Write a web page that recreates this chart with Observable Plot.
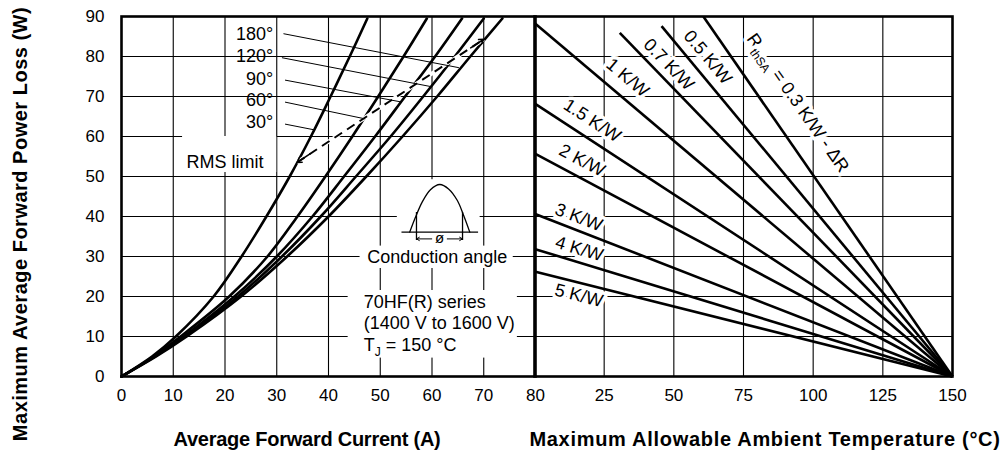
<!DOCTYPE html>
<html><head><meta charset="utf-8">
<script src="https://cdn.jsdelivr.net/npm/d3@7"></script>
<script src="https://cdn.jsdelivr.net/npm/@observablehq/plot@0.6"></script>
<style>
body{margin:0;background:#fff;}
#wrap{position:relative;width:1002px;height:451px;font-family:"Liberation Sans",Arial,sans-serif;color:#000;overflow:hidden;}
#wrap svg{position:absolute;top:0;}
.title{position:absolute;font-weight:bold;font-size:20px;white-space:nowrap;transform:translate(-50%,-50%);}
</style></head><body><div id="wrap"></div>
<script>
// ---------- Left panel: power loss vs average current ----------
const angleLabels = ["30°", "60°", "90°", "120°", "180°"];
const powerLevels = [0, 5, 10, 20, 30, 40, 50, 60, 70, 80, 89.5];
const current30  = [0, 5.9, 10.5, 17.8, 23.2, 28.0, 32.5, 36.6, 40.4, 44.1, 47.5];
const current60  = [0, 6.2, 11.4, 20.8, 28.2, 34.0, 39.4, 44.6, 49.6, 54.5, 59.0];
const current90  = [0, 6.4, 12.0, 21.8, 30.0, 36.9, 43.0, 49.0, 54.8, 60.6, 65.8];
const current120 = [0, 6.5, 12.3, 22.5, 31.0, 38.5, 45.3, 52.0, 58.3, 64.4, 70.0];
const current180 = [0, 6.7, 12.6, 23.1, 32.0, 40.0, 47.3, 54.3, 61.0, 67.4, 73.6];
const currentTicks = [0, 10, 20, 30, 40, 50, 60, 70, 80];
const powerTicks = [0, 10, 20, 30, 40, 50, 60, 70, 80, 90];

// angle labels and leader lines (data units)
const angleLabelX = [29.3, 29.3, 29.3, 29.3, 29.3];
const angleLabelY = [63.5, 69.1, 74.3, 80.1, 85.5];
const leaderX1 = [31.6, 31.6, 31.6, 31.0, 31.3];
const leaderY1 = [63.1, 68.6, 74.1, 79.7, 85.7];
const leaderX2 = [37.1, 47.1, 54.2, 59.7, 65.2];
const leaderY2 = [61.7, 64.4, 68.6, 72.5, 77.2];

// RMS limit (dashed)
const rmsCurrent = [33.9, 70.0];
const rmsPower = [53.5, 84.3];

// text annotations
const rmsText = {text: "RMS limit", x: 20.0, y: 53.5};
const condText = {text: "Conduction angle", x: 61.0, y: 29.8};
const seriesLines = ["70HF(R) series", "(1400 V to 1600 V)", "TJ = 150 °C"];
const seriesX = 46.8;
const seriesY = [18.6, 13.2, 7.8];

// white label boxes [x1, x2, y1, y2]
const boxX1 = [11.8, 53.3, 46.1, 43.8];
const boxX2 = [30.0, 69.3, 75.7, 76.5];
const boxY1 = [51.0, 32.5, 27.0, 4.6];
const boxY2 = [60.0, 49.2, 32.6, 21.5];

// conduction-angle pictogram
const iconArcX = [55.7, 56.8, 58.1, 59.7, 61.5, 63.2, 64.9, 66.1, 67.3];
const iconArcY = [36.1, 39.8, 43.6, 46.7, 48.0, 46.9, 44.0, 40.3, 36.1];
const iconBase = {x1: 54.2, x2: 69.0, y: 36.1};
const iconBarsX = [57.0, 65.9];
const iconBarsY = [34.0, 41.0];
const iconDimY = 34.4;

// ---------- Right panel: ambient temperature ----------
const rthLabels = ["0.3 K/W", "0.5 K/W", "0.7 K/W", "1 K/W", "1.5 K/W", "2 K/W", "3 K/W", "4 K/W", "5 K/W"];
const rthStartT = [60.6, 45.6, 30.6, 0, 0, 0, 0, 0, 0];
const rthStartP = [90, 87.6, 85.9, 88.4, 68.3, 55.8, 40.7, 31.9, 26.25];
const ambientEnd = 150;
const powerEnd = 0;
const tempTicks = [25, 50, 75, 100, 125, 150];

const rLabelText = ["RthSA = 0.3 K/W - ΔR", "0.5 K/W", "0.7 K/W", "1 K/W", "1.5 K/W", "2 K/W", "3 K/W", "4 K/W", "5 K/W"];
const rLabelT = [94.5, 62.2, 48.2, 33.4, 20.7, 17.1, 15.9, 16.1, 15.9];
const rLabelP = [68.4, 79.8, 78.0, 74.7, 64.0, 54.0, 39.8, 31.9, 20.25];
const rLabelAngle = [55, 50, 46, 40, 33, 28, 21, 17, 14];

// ---------- build rows ----------
const currents = [current30, current60, current90, current120, current180];
const curveRows = angleLabels.flatMap((a, k) => powerLevels.map((p, i) => ({angle: a, I: currents[k][i], P: p})));
const angleRows = angleLabels.map((a, k) => ({a, x: angleLabelX[k], y: angleLabelY[k], x1: leaderX1[k], y1: leaderY1[k], x2: leaderX2[k], y2: leaderY2[k]}));
const rmsRow = [{x1: rmsCurrent[0], y1: rmsPower[0], x2: rmsCurrent[1], y2: rmsPower[1]}];
const lerp = (a, b, t) => a + (b - a) * t;
const rmsHeads = [
  {x1: lerp(rmsCurrent[0], rmsCurrent[1], 0.07), y1: lerp(rmsPower[0], rmsPower[1], 0.07), x2: rmsCurrent[0], y2: rmsPower[0]},
  {x1: lerp(rmsCurrent[0], rmsCurrent[1], 0.93), y1: lerp(rmsPower[0], rmsPower[1], 0.93), x2: rmsCurrent[1], y2: rmsPower[1]}
];
const boxRows = boxX1.map((x, i) => ({x1: x, x2: boxX2[i], y1: boxY1[i], y2: boxY2[i]}));
const arcRows = iconArcX.map((x, i) => ({x, y: iconArcY[i]}));
const seriesRows = seriesLines.map((t, i) => ({t, x: seriesX, y: seriesY[i]}));
const iconMid = (iconBarsX[0] + iconBarsX[1]) / 2;
const dimRows = [
  {x1: iconMid - 1.5, x2: iconBarsX[0]},
  {x1: iconMid + 1.5, x2: iconBarsX[1]}
];

const rthRows = rthLabels.map((l, i) => ({l, t0: rthStartT[i], p0: rthStartP[i], t1: ambientEnd, p1: powerEnd}));
const rLabelRows = rLabelText.map((t, i) => ({t, x: rLabelT[i], y: rLabelP[i], r: rLabelAngle[i]}));

const FONT = '"Liberation Sans", Arial, sans-serif';
const svgStyle = {fontSize: "17px", fontFamily: FONT, background: "none", overflow: "visible", color: "black"};
const halo = {stroke: "white", strokeWidth: 7, fill: "black"};

const left = Plot.plot({
  width: 540, height: 451,
  marginLeft: 121, marginRight: 5, marginTop: 16, marginBottom: 75,
  style: svgStyle,
  x: {domain: [0, 80], label: null},
  y: {domain: [0, 90], label: null},
  marks: [
    Plot.gridX(currentTicks.slice(1, -1), {stroke: "black", strokeOpacity: 1, strokeWidth: 1.1}),
    Plot.gridY(powerTicks.slice(1, -1), {stroke: "black", strokeOpacity: 1, strokeWidth: 1.1}),
    Plot.rect(boxRows, {x1: "x1", x2: "x2", y1: "y1", y2: "y2", fill: "white"}),
    Plot.line(curveRows, {x: "I", y: "P", z: "angle", stroke: "black", strokeWidth: 2.6, curve: "catmull-rom"}),
    Plot.link(rmsRow, {x1: "x1", y1: "y1", x2: "x2", y2: "y2", stroke: "white", strokeWidth: 4}),
    Plot.link(rmsRow, {x1: "x1", y1: "y1", x2: "x2", y2: "y2", stroke: "black", strokeWidth: 2, strokeDasharray: "9,6"}),
    Plot.arrow(rmsHeads, {x1: "x1", y1: "y1", x2: "x2", y2: "y2", stroke: "black", strokeWidth: 1.5, headLength: 7, bend: 0}),
    Plot.link(angleRows, {x1: "x1", y1: "y1", x2: "x2", y2: "y2", stroke: "black", strokeWidth: 1}),
    Plot.text(angleRows, {x: "x", y: "y", text: "a", textAnchor: "end", fontSize: 18, fill: "black"}),
    Plot.text([rmsText], {x: "x", y: "y", text: "text", fontSize: 18, fill: "black"}),
    Plot.text([condText], {x: "x", y: "y", text: "text", fontSize: 18, fill: "black"}),
    Plot.text(seriesRows, {x: "x", y: "y", text: "t", textAnchor: "start", fontSize: 18, fill: "black"}),
    // pictogram
    Plot.ruleY([iconBase], {x1: "x1", x2: "x2", y: "y", stroke: "black", strokeWidth: 1.2}),
    Plot.line(arcRows, {x: "x", y: "y", stroke: "black", strokeWidth: 1.3, curve: "catmull-rom"}),
    Plot.ruleX(iconBarsX, {y1: iconBarsY[0], y2: iconBarsY[1], stroke: "black", strokeWidth: 1.3}),
    Plot.arrow(dimRows, {x1: "x1", x2: "x2", y1: iconDimY, y2: iconDimY, stroke: "black", strokeWidth: 1, headLength: 5, bend: 0}),
    Plot.text(["ø"], {x: iconMid, y: iconDimY + 0.2, text: d => d, fontSize: 15, fill: "black"}),
    Plot.frame({stroke: "black", strokeWidth: 2.6}),
    Plot.axisX({ticks: currentTicks, tickSize: 0, tickPadding: 12, label: null}),
    Plot.axisY({ticks: powerTicks, tickSize: 0, tickPadding: 17, label: null})
  ]
});

const right = Plot.plot({
  width: 482, height: 451,
  marginLeft: 14, marginRight: 50, marginTop: 16, marginBottom: 75,
  style: svgStyle,
  x: {domain: [0, 150], label: null},
  y: {domain: [0, 90], label: null, axis: null},
  marks: [
    Plot.gridX(tempTicks.slice(0, -1), {stroke: "black", strokeOpacity: 1, strokeWidth: 1.1}),
    Plot.gridY(powerTicks.slice(1, -1), {stroke: "black", strokeOpacity: 1, strokeWidth: 1.1}),
    Plot.text(rLabelRows, {x: "x", y: "y", text: "t", rotate: "r", fontSize: 18, ...halo}),
    Plot.link(rthRows, {x1: "t0", y1: "p0", x2: "t1", y2: "p1", stroke: "black", strokeWidth: 2.6}),
    Plot.frame({stroke: "black", strokeWidth: 2.6}),
    Plot.axisX({ticks: tempTicks, tickSize: 0, tickPadding: 12, label: null})
  ]
});

function addSub(svg, whole, base, sub, rest) {
  const ns = "http://www.w3.org/2000/svg";
  svg.querySelectorAll("text").forEach(t => {
    if (t.textContent === whole) {
      t.textContent = "";
      const a = document.createElementNS(ns, "tspan"); a.textContent = base;
      const b = document.createElementNS(ns, "tspan"); b.textContent = sub;
      b.setAttribute("font-size", "12"); b.setAttribute("dy", "5");
      const c = document.createElementNS(ns, "tspan"); c.textContent = rest; c.setAttribute("dy", "-5");
      t.append(a, b, c);
    }
  });
}
addSub(left, "TJ = 150 °C", "T", "J", " = 150 °C");
addSub(right, "RthSA = 0.3 K/W - ΔR", "R", "thSA", " = 0.3 K/W - ΔR");

const wrap = document.getElementById("wrap");
left.style.left = "0px";
right.style.left = "520px";
wrap.append(left, right);

function title(txt, x, y, rot, spacing) {
  const d = document.createElement("div");
  d.className = "title";
  d.textContent = txt;
  d.style.left = x + "px";
  d.style.top = y + "px";
  d.style.letterSpacing = spacing + "px";
  if (rot) d.style.transform = "translate(-50%,-50%) rotate(-90deg)";
  wrap.append(d);
}
title("Maximum Average Forward Power Loss (W)", 20, 224, true, 0.5);
title("Average Forward Current (A)", 307, 439, false, -0.25);
title("Maximum Allowable Ambient Temperature (°C)", 765, 439, false, 0.7);
</script></body></html>
